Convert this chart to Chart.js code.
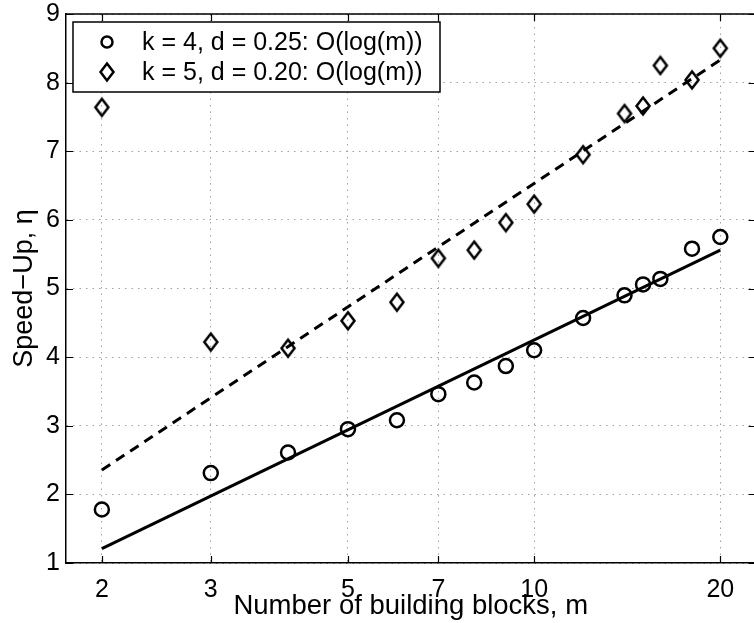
<!DOCTYPE html>
<html>
<head>
<meta charset="utf-8">
<script src="https://cdn.jsdelivr.net/npm/chart.js@4/dist/chart.umd.min.js"></script>
<style>
  html, body { margin: 0; padding: 0; background: #fff; overflow: hidden; }
  #wrap { width: 754px; height: 623px; overflow: hidden; }
</style>
</head>
<body>
<div id="wrap"><canvas id="speedup" width="766" height="623"></canvas></div>
<script>
// number of building blocks (log axis)
const blocks = [2, 3, 4, 5, 6, 7, 8, 9, 10, 12, 14, 15, 16, 18, 20];
const speedK4 = [1.78, 2.31, 2.61, 2.95, 3.08, 3.46, 3.63, 3.87, 4.10, 4.57, 4.90, 5.06, 5.14, 5.58, 5.75];
const speedK5 = [7.64, 4.22, 4.13, 4.53, 4.80, 5.44, 5.56, 5.96, 6.23, 6.95, 7.55, 7.66, 8.25, 8.04, 8.50];

// O(log(m)) fit lines, endpoints
const fitBlocks = [2, 20];
const fitK4 = [1.21, 5.56];
const fitK5 = [2.355, 8.33];

const xTicks = [2, 3, 5, 7, 10, 20];
const labelK4 = "k = 4, d = 0.25: O(log(m))";
const labelK5 = "k = 5, d = 0.20: O(log(m))";

const FONT = "'Liberation Sans', Arial, Helvetica, sans-serif";

// matlab style diamond, a bit narrower than it is tall
function makeDiamond() {
  const c = document.createElement("canvas");
  c.width = 18;
  c.height = 22;
  const g = c.getContext("2d");
  g.lineWidth = 2.5;
  g.strokeStyle = "#000";
  g.beginPath();
  g.moveTo(9, 2.5);
  g.lineTo(15.5, 11);
  g.lineTo(9, 19.5);
  g.lineTo(2.5, 11);
  g.closePath();
  g.stroke();
  return c;
}
const diamond = makeDiamond();

const pts = (xs, ys) => xs.map((x, i) => ({ x: x, y: ys[i] }));

// box, inward tick marks and the legend box
const matlabAxes = {
  id: "matlabAxes",
  afterDraw(chart) {
    const { ctx, chartArea: a, scales } = chart;
    ctx.save();
    ctx.strokeStyle = "#000";
    ctx.lineWidth = 1.5;
    ctx.beginPath();
    ctx.moveTo(a.left, a.top);
    ctx.lineTo(a.right, a.top);
    ctx.lineTo(a.right, a.bottom);
    ctx.stroke();

    ctx.lineWidth = 1.2;
    ctx.beginPath();
    xTicks.forEach((v) => {
      const px = Math.round(scales.x.getPixelForValue(v)) + 0.5;
      ctx.moveTo(px, a.bottom);
      ctx.lineTo(px, a.bottom - 7);
      ctx.moveTo(px, a.top);
      ctx.lineTo(px, a.top + 7);
    });
    scales.y.ticks.forEach((t) => {
      const py = Math.round(scales.y.getPixelForValue(t.value)) + 0.5;
      ctx.moveTo(a.left, py);
      ctx.lineTo(a.left + 7, py);
      ctx.moveTo(a.right, py);
      ctx.lineTo(a.right - 7, py);
    });
    ctx.stroke();

    // legend
    const bx = a.left + 7, by = a.top + 8, bw = 367, bh = 70;
    ctx.fillStyle = "#fff";
    ctx.fillRect(bx, by, bw, bh);
    ctx.lineWidth = 1.5;
    ctx.strokeRect(bx, by, bw, bh);
    const items = chart.data.datasets.filter((d) => d.inLegend);
    items.forEach((d, i) => {
      const cy = by + 20 + i * 30;
      ctx.fillStyle = "rgba(0,0,0,0)";
      ctx.strokeStyle = "#000";
      ctx.lineWidth = d.borderWidth;
      Chart.helpers.drawPoint(ctx, {
        pointStyle: d.pointStyle,
        radius: d.legendRadius,
        borderWidth: d.borderWidth,
        rotation: 0
      }, bx + 34, cy);
      ctx.font = "25px " + FONT;
      ctx.fillStyle = "#000";
      ctx.textBaseline = "middle";
      ctx.textAlign = "left";
      ctx.fillText(d.label, bx + 69, cy + 1);
    });
    ctx.restore();
  }
};

new Chart(document.getElementById("speedup"), {
  type: "scatter",
  data: {
    datasets: [
      {
        label: labelK4,
        inLegend: true,
        data: pts(blocks, speedK4),
        pointStyle: "circle",
        pointRadius: 7,
        legendRadius: 5.5,
        borderWidth: 2.5,
        borderColor: "#000",
        backgroundColor: "rgba(0,0,0,0)",
        showLine: false
      },
      {
        label: labelK5,
        inLegend: true,
        data: pts(blocks, speedK5),
        pointStyle: diamond,
        pointRadius: 8,
        legendRadius: 8,
        borderWidth: 2.5,
        borderColor: "#000",
        backgroundColor: "rgba(0,0,0,0)",
        showLine: false
      },
      {
        label: "fit k4",
        data: pts(fitBlocks, fitK4),
        showLine: true,
        borderColor: "#000",
        borderWidth: 3,
        pointRadius: 0
      },
      {
        label: "fit k5",
        data: pts(fitBlocks, fitK5),
        showLine: true,
        borderColor: "#000",
        borderWidth: 3,
        borderDash: [10, 7],
        pointRadius: 0
      }
    ]
  },
  options: {
    responsive: false,
    animation: false,
    devicePixelRatio: 1,
    layout: { padding: { top: 14, right: 6, left: 0, bottom: 0 } },
    plugins: {
      legend: { display: false },
      tooltip: { enabled: false }
    },
    scales: {
      x: {
        type: "logarithmic",
        min: 1.75,
        max: 22.8,
        afterBuildTicks: (s) => { s.ticks = xTicks.map((v) => ({ value: v })); },
        afterFit: (s) => {
          s.height = 60;
          s.paddingLeft = 0;
          s.paddingRight = 0;
        },
        ticks: {
          callback: (v) => String(v),
          color: "#000",
          font: { family: FONT, size: 25 },
          padding: 12,
          autoSkip: false,
          maxRotation: 0
        },
        grid: { color: "#a0a0a0", lineWidth: 1, drawTicks: false },
        border: { display: true, color: "#000", width: 1.5, dash: [1.5, 5] },
        title: {
          display: true,
          text: "Number of building blocks, m",
          color: "#000",
          font: { family: FONT, size: 27.5 },
          padding: { top: 0, bottom: 0 }
        }
      },
      y: {
        min: 1,
        max: 9,
        afterFit: (s) => {
          s.width = 66;
          s.paddingTop = 0;
          s.paddingBottom = 0;
        },
        ticks: {
          stepSize: 1,
          color: "#000",
          font: { family: FONT, size: 25 },
          padding: 6
        },
        grid: { color: "#a0a0a0", lineWidth: 1, drawTicks: false },
        border: { display: true, color: "#000", width: 1.5, dash: [1.5, 5] },
        title: {
          display: true,
          text: "Speed\u2212Up, \u03b7",
          color: "#000",
          font: { family: FONT, size: 27 },
          padding: { top: 8, bottom: 0 }
        }
      }
    }
  },
  plugins: [matlabAxes]
});
</script>
</body>
</html>
